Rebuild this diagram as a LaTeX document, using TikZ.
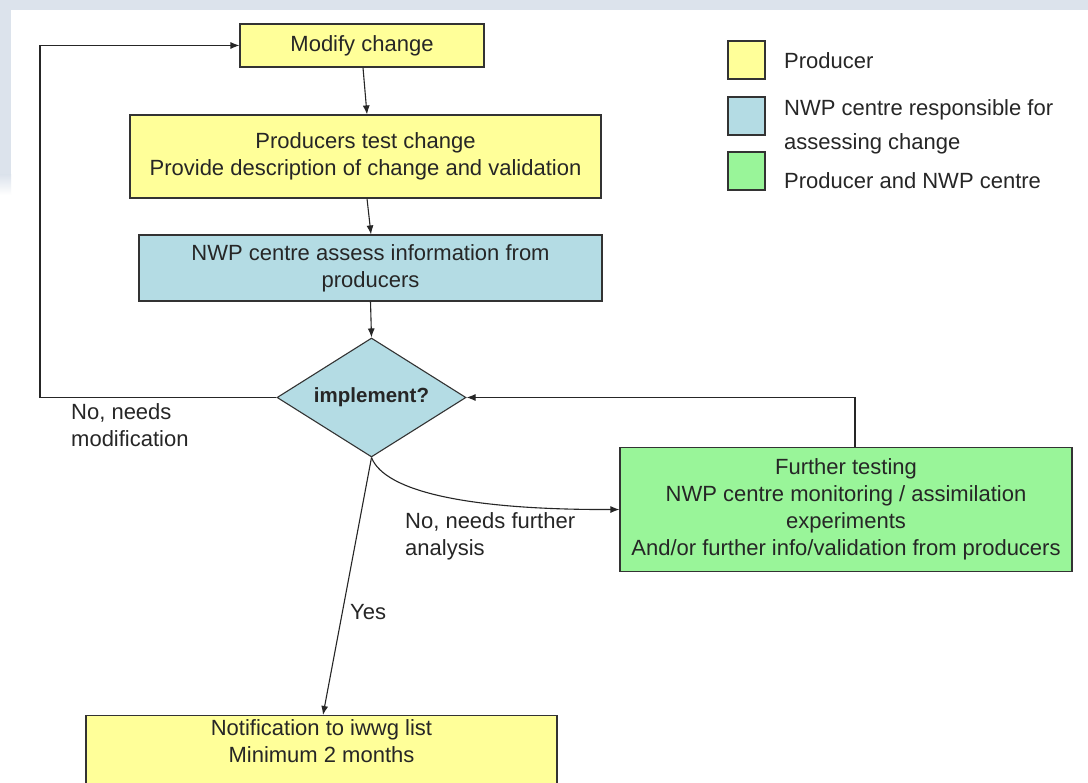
\documentclass[tikz,border=0pt]{standalone}
\usepackage{fontspec}
\setmainfont{Liberation Sans}
\usetikzlibrary{shapes.geometric,arrows.meta}
\definecolor{prodyellow}{HTML}{FFFF99}
\definecolor{nwpblue}{HTML}{B4DCE4}
\definecolor{bothgreen}{HTML}{99F599}
\definecolor{slidebg}{HTML}{DCE3EC}

\begin{document}
\begin{tikzpicture}[x=1pt,y=-1pt]
\tikzset{
	flowbox/.style={draw=black!80,line width=1.1pt,inner sep=0pt,align=center,
		text=black!85,font=\fontsize{22}{27}\selectfont},
	ybox/.style={flowbox,fill=prodyellow},
	bbox/.style={flowbox,fill=nwpblue},
	gbox/.style={flowbox,fill=bothgreen},
	decision/.style={diamond,draw=black!80,line width=1.1pt,fill=nwpblue,inner sep=0pt,
		aspect=1.59,minimum width=189pt,minimum height=119pt,
		text=black!85,font=\fontsize{20.5}{24}\selectfont\bfseries},
	conn/.style={draw=black!85,line width=1.1pt,-{Latex[length=9pt,width=7pt]}},
	lbl/.style={inner sep=0pt,align=left,text=black!85,font=\fontsize{22}{27}\selectfont},
	legbox/.style={draw=black!80,line width=1.1pt,minimum width=37pt,minimum height=38pt,inner sep=0pt}
}
\clip (0,0) rectangle (1088,783);
\fill[white] (0,0) rectangle (1088,783);
\fill[slidebg] (0,0) rectangle (1088,10);
\fill[slidebg] (0,0) rectangle (11,175);
\shade[top color=slidebg,bottom color=white] (0,175) rectangle (11,195);

% flow
\node[ybox,minimum width=244pt,minimum height=43pt] (modify) at (362,45.5) {Modify change};
\node[ybox,minimum width=471pt,minimum height=83pt] (test) at (365.5,156.5) {Producers test change\\Provide description of change and validation};
\node[bbox,minimum width=463pt,minimum height=66pt] (assess) at (370.5,268) {NWP centre assess information from\\producers};
\node[decision] (impl) at (371.5,397.5) {implement?};
\node[gbox,minimum width=452pt,minimum height=124pt] (further) at (846,509.5) {Further testing\\NWP centre monitoring / assimilation\\experiments\\And/or further info/validation from producers};
\node[ybox,minimum width=471pt,inner ysep=4pt,anchor=north,text depth=90pt] (notify) at (321.5,715) {Notification to iwwg list\\Minimum 2 months};

% legend
\foreach \c/\y [count=\i] in {prodyellow/60,nwpblue/116,bothgreen/171}{%
	\node[legbox,fill=\c] (leg\i) at (746.5,\y) {};
}%
\node[lbl,anchor=west] (legt1) at (784,61) {Producer};
\node[lbl,anchor=west,font=\fontsize{22}{34}\selectfont] (legt2) at (784,127) {NWP centre responsible for\\assessing change};
\node[lbl,anchor=west] (legt3) at (784,181) {Producer and NWP centre};

% labels
\node[lbl,anchor=west] (nomod) at (71,425) {No, needs\\modification};
\node[lbl,anchor=west] (nofurther) at (405,536.5) {No, needs further\\analysis};
\node[lbl,anchor=west] (yes) at (350,612) {Yes};

% connectors
\coordinate (loopcorner) at (40,397.5);
\draw[conn] ([xshift=1pt]modify.south) -- ([xshift=1.5pt]test.north);
\draw[conn] ([xshift=1.5pt]test.south) -- ([xshift=0.5pt]assess.north);
\draw[conn] (assess.south) -- (impl.north);
\draw[conn] (impl.west) -- (loopcorner) |- (modify.west);
\draw[conn] ([xshift=9pt]further.north) |- (impl.east);
\draw[conn] (impl.south) .. controls (385,492) and (470,510) .. (further.west);
\draw[conn] (impl.south) -- ([xshift=1.5pt]notify.north);
\end{tikzpicture}
\end{document}
